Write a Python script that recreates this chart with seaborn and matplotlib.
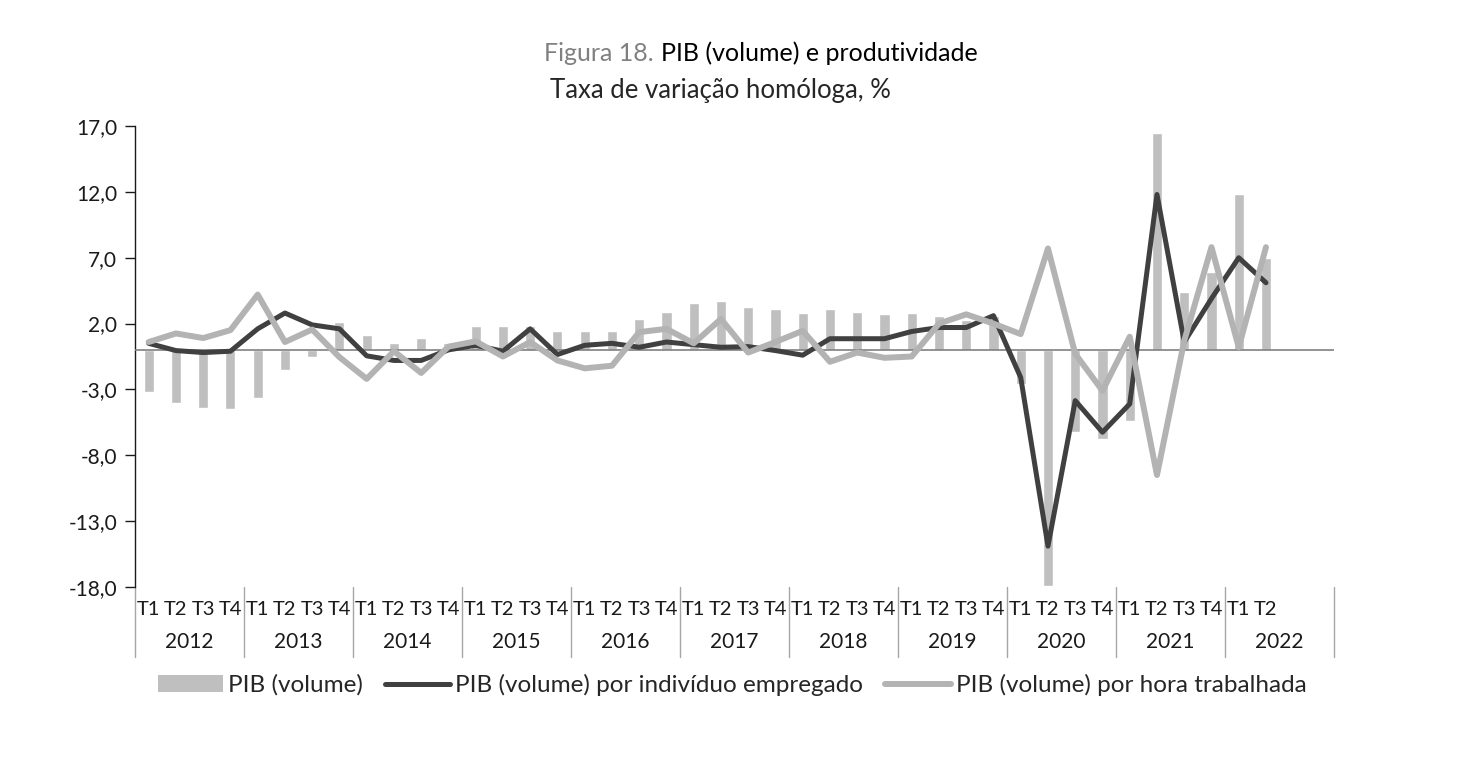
import numpy as np
import pandas as pd
import matplotlib.pyplot as plt
import matplotlib.transforms as mtransforms
from matplotlib.patches import Patch
from matplotlib.lines import Line2D
import seaborn as sns

# Categories
years = [str(y) for y in range(2012, 2023)]
quarters = ["T1", "T2", "T3", "T4"]

# Taxa de variação homóloga, %
pib_volume = [
    -3.2, -4.05, -4.4, -4.5,
    -3.65, -1.55, -0.55, 2.1,
    1.1, 0.55, 0.9, 0.5,
    1.85, 1.85, 1.8, 1.4,
    1.4, 1.4, 2.35, 2.9,
    3.55, 3.75, 3.25, 3.1,
    2.8, 3.1, 2.9, 2.7,
    2.8, 2.6, 2.3, 2.6,
    -2.6, -17.9, -6.25, -6.8,
    -5.4, 16.5, 4.4, 5.9,
    11.8, 7.0,
]
pib_por_individuo = [
    0.5, -0.05, -0.2, -0.1,
    1.6, 2.8, 1.9, 1.6,
    -0.45, -0.8, -0.8, 0.0,
    0.35, -0.1, 1.6, -0.35,
    0.35, 0.5, 0.2, 0.6,
    0.4, 0.2, 0.25, -0.05,
    -0.4, 0.85, 0.85, 0.85,
    1.4, 1.7, 1.7, 2.6,
    -2.1, -14.9, -3.85, -6.25,
    -4.1, 11.8, 0.6, 3.9,
    7.0, 5.1,
]
pib_por_hora = [
    0.6, 1.25, 0.9, 1.5,
    4.2, 0.6, 1.55, -0.55,
    -2.2, -0.1, -1.75, 0.25,
    0.65, -0.5, 0.6, -0.8,
    -1.4, -1.2, 1.35, 1.6,
    0.5, 2.35, -0.2, 0.6,
    1.45, -0.9, -0.2, -0.6,
    -0.5, 2.0, 2.7, 2.0,
    1.2, 7.7, -0.3, -3.1,
    1.0, -9.5, 0.7, 7.8,
    0.2, 7.8,
]

labels = ["PIB (volume)", "PIB (volume) por indivíduo empregado",
          "PIB (volume) por hora trabalhada"]

n_slots = len(years) * len(quarters)
df = pd.DataFrame({
    "pos": np.arange(len(pib_volume)),
    "pib": pib_volume,
    "individuo": pib_por_individuo,
    "hora": pib_por_hora,
})

sns.set_theme(style="white")
plt.rcParams["font.family"] = ["Lato", "DejaVu Sans"]

bar_color = "#bfbfbf"
dark_color = "#404040"
light_color = "#b3b3b3"
text_color = "#1a1a1a"

fig = plt.figure(figsize=(14.68, 7.66), dpi=100)
ax = fig.add_axes([0.092, 0.2337, 0.8168, 0.6018])

sns.barplot(data=df, x="pos", y="pib", native_scale=True, width=0.37,
            color=bar_color, saturation=1, errorbar=None, ax=ax, zorder=2)
ax.axhline(0, color="#808080", lw=1.2, zorder=3)
sns.lineplot(data=df, x="pos", y="individuo", color=dark_color, linewidth=3.6,
             solid_joinstyle="round", solid_capstyle="round", ax=ax, zorder=4)
sns.lineplot(data=df, x="pos", y="hora", color=light_color, linewidth=4.3,
             solid_joinstyle="round", solid_capstyle="round", ax=ax, zorder=5)

# y axis
ax.set_ylim(-18, 17)
yt = np.arange(-18, 18, 5)
ax.set_yticks(yt)
ax.set_yticklabels([f"{v:.1f}".replace(".", ",") for v in yt], fontsize=15, color=text_color)
ax.tick_params(axis="y", left=True, length=7, width=1, color=text_color, pad=6)
ax.set_ylabel("")

# x axis: quarters + years
ax.set_xlim(-0.5, n_slots - 0.5)
ax.set_xticks(np.arange(n_slots))
qlabels = quarters * len(years)
qlabels = qlabels[:len(pib_volume)] + [""] * (n_slots - len(pib_volume))
ax.set_xticklabels(qlabels, fontsize=14.5, color=text_color)
ax.tick_params(axis="x", bottom=False, length=0, pad=10)
ax.set_xlabel("")

for s in ["top", "right", "bottom"]:
    ax.spines[s].set_visible(False)
ax.spines["left"].set_color(text_color)
ax.spines["left"].set_linewidth(1)

trans = mtransforms.blended_transform_factory(ax.transData, ax.transAxes)
for i, yr in enumerate(years):
    ax.text(4 * i + 1.5, -0.119, yr, transform=trans, ha="center", va="center",
            fontsize=15, color=text_color)
for k in range(len(years) + 1):
    ax.plot([4 * k - 0.5] * 2, [0, -0.152], transform=trans, color="#a6a6a6",
            lw=1, clip_on=False)

# title
fig.text(654 / 1468, 0.93, "Figura 18.", ha="right", va="center",
         fontsize=18, color="#808080")
fig.text(661 / 1468, 0.93, "PIB (volume) e produtividade", ha="left",
         va="center", fontsize=18, color="#000000")
fig.text(720 / 1468, 0.8825, "Taxa de variação homóloga, %", ha="center",
         va="center", fontsize=18.5, color="#262626")

handles = [
    Patch(facecolor=bar_color, edgecolor="none"),
    Line2D([], [], color=dark_color, lw=3.6, solid_capstyle="round"),
    Line2D([], [], color=light_color, lw=4.3, solid_capstyle="round"),
]
fig.legend(handles, labels, loc="center", bbox_to_anchor=(732 / 1468, 1 - 685 / 766),
           ncol=3, frameon=False, fontsize=17.5, handlelength=2.7, handleheight=0.7,
           handletextpad=0.2, columnspacing=0.9)

fig.savefig("out.png", dpi=100)
